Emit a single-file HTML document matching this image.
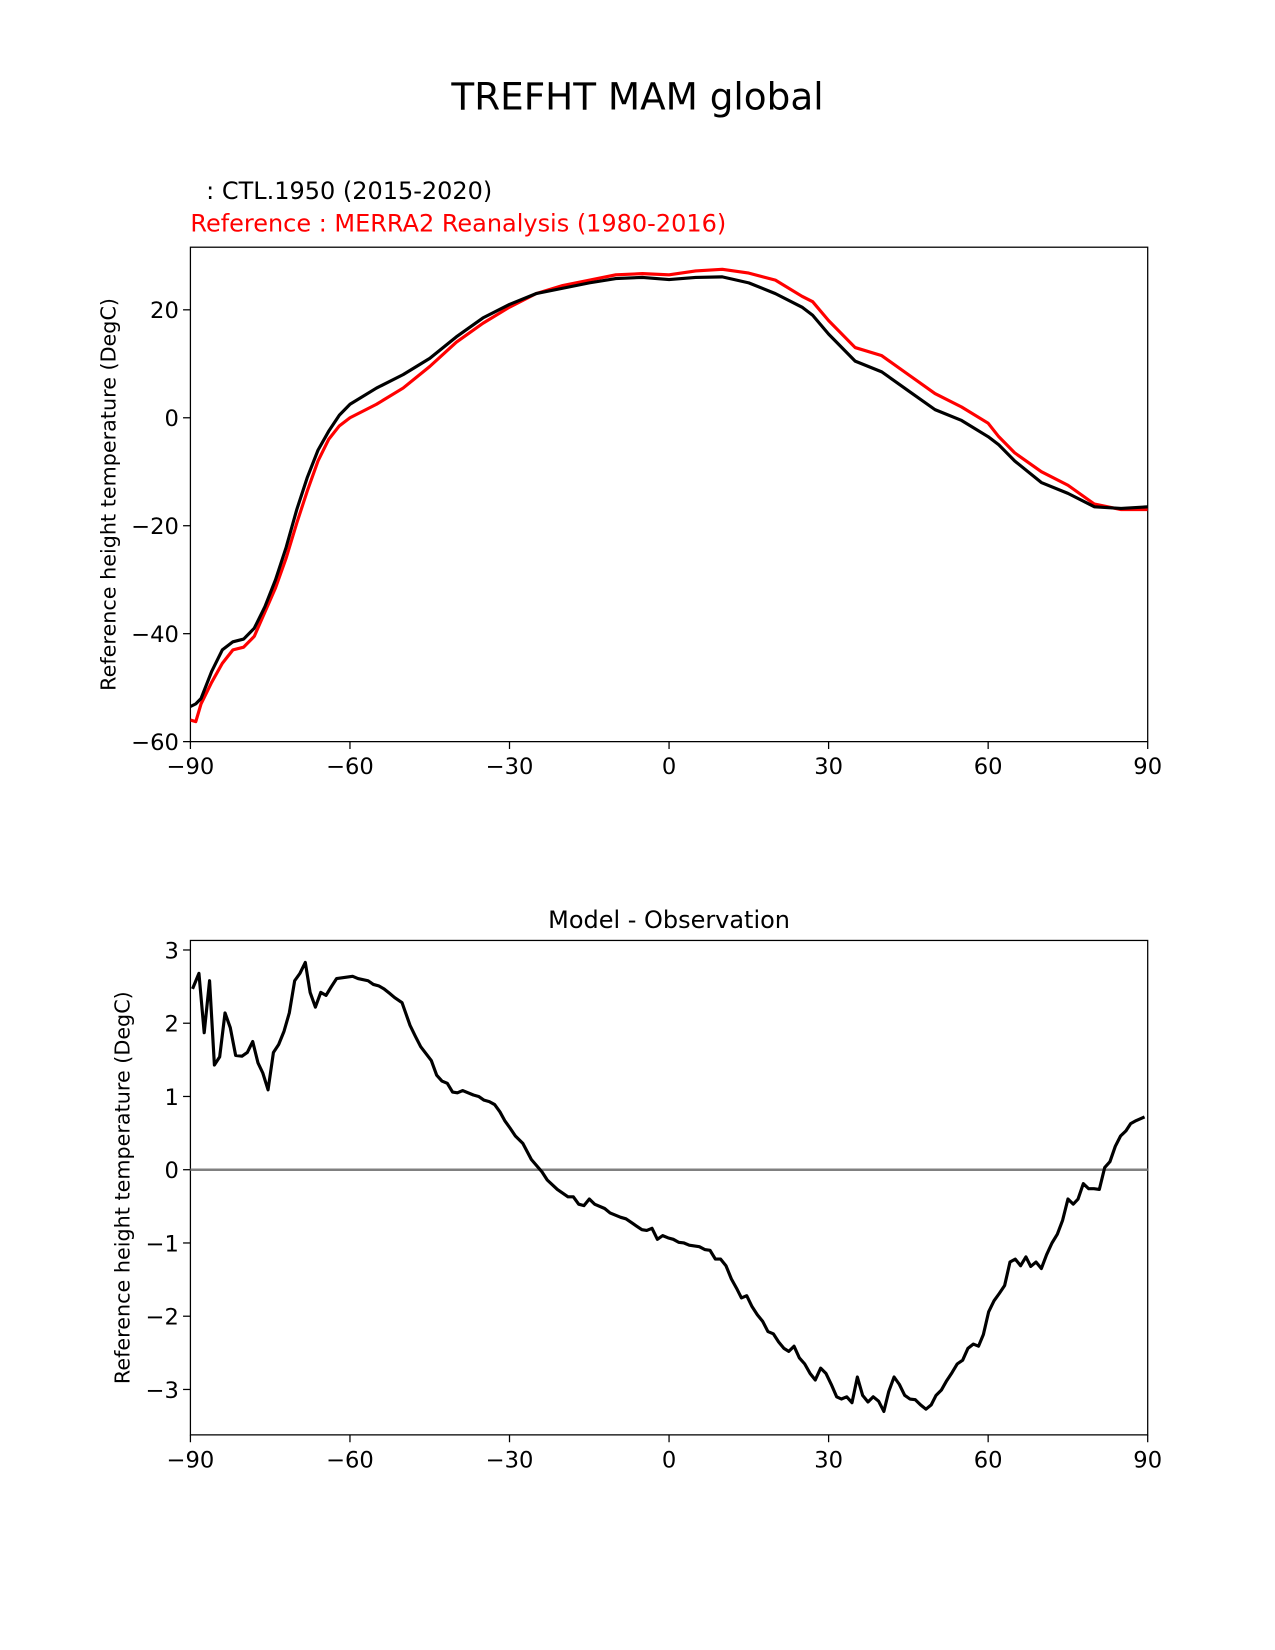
<!DOCTYPE html>
<html><head><meta charset="utf-8"><style>
html,body{margin:0;padding:0;background:#fff}
svg{display:block;font-family:"DejaVu Sans","Liberation Sans",sans-serif}
</style></head><body>
<svg id="fig" width="1275" height="1650" viewBox="0 0 1212 1568.5">
<text x="606" y="104" font-size="35.5" text-anchor="middle">TREFHT MAM global</text>
<text x="196" y="189" font-size="22.8">: CTL.1950 (2015-2020)</text>
<text x="181" y="220" font-size="22.8" fill="#ff0000">Reference : MERRA2 Reanalysis (1980-2016)</text>
<g id="topchart"></g>
<text x="636" y="882" font-size="22.8" text-anchor="middle">Model - Observation</text>
<g id="botchart"></g>
</svg>
<script>
const topLat=[-90,-89,-88,-86,-84,-82,-80,-78,-76,-74,-72,-70,-68,-66,-64,-62,-60,-55,-50,-45,-40,-35,-30,-25,-20,-15,-10,-5,0,5,10,15,20,25,27,30,35,40,45,50,55,60,62,65,70,75,80,85,90];
const modelVals=[-53.5,-53,-52,-47,-43,-41.5,-41,-39,-35,-30,-24,-17,-11,-6,-2.5,0.5,2.5,5.5,8,11,15,18.5,21,23,24,25,25.8,26,25.6,26,26.1,25,23,20.5,19,15.5,10.5,8.5,5,1.5,-0.5,-3.5,-5,-8,-12,-14,-16.5,-16.8,-16.5];
const refVals=[-56,-56.3,-53,-49,-45.5,-43,-42.5,-40.5,-36,-31.5,-26,-19.5,-13.5,-8,-4,-1.5,0,2.5,5.5,9.5,14,17.5,20.5,23,24.5,25.5,26.5,26.7,26.5,27.2,27.5,26.8,25.5,22.5,21.5,18,13,11.5,8,4.5,2,-1,-3.5,-6.5,-10,-12.5,-16,-17,-17];
const diffLat=[-89.6,-88.4,-87.4,-86.4,-85.5,-84.5,-83.5,-82.5,-81.5,-80.3,-79.3,-78.3,-77.3,-76.4,-75.4,-74.4,-73.4,-72.4,-71.4,-70.4,-69.4,-68.4,-67.5,-66.5,-65.5,-64.5,-63.5,-62.5,-60.5,-59.5,-58.5,-56.6,-55.6,-54.6,-53.6,-52.6,-51.6,-50.2,-48.7,-47.7,-46.7,-44.7,-43.7,-42.7,-41.7,-40.7,-39.8,-38.8,-36.8,-35.8,-34.8,-33.8,-32.8,-31.8,-30.9,-29.9,-28.9,-27.5,-25.9,-23.9,-22.9,-21.0,-19.0,-18.0,-17.0,-16.0,-15.0,-14.0,-12.1,-11.1,-9.1,-8.1,-7.1,-6.1,-5.1,-4.2,-3.2,-2.2,-1.2,-0.2,0.8,1.8,2.8,3.8,5.7,6.7,7.7,8.7,9.7,10.7,11.7,12.7,13.6,14.6,15.6,16.6,17.6,18.6,19.6,20.6,21.6,22.5,23.5,24.5,25.5,26.5,27.5,28.5,29.5,30.5,31.5,32.4,33.4,34.4,35.4,36.4,37.4,38.4,39.4,40.4,41.3,42.3,43.3,44.3,45.3,46.3,47.3,48.3,49.3,50.2,51.2,52.2,53.2,54.2,55.2,56.2,57.2,58.2,59.1,60.1,61.1,62.1,63.1,64.1,65.1,66.1,67.1,68.0,69.0,70.0,71.0,72.0,73.0,74.0,75.0,76.0,76.9,77.9,78.9,79.9,80.9,81.9,82.9,83.9,84.9,85.9,86.8,87.8,89.4];
const diffVals=[2.47,2.68,1.87,2.58,1.43,1.54,2.14,1.94,1.56,1.55,1.6,1.75,1.46,1.32,1.09,1.6,1.71,1.89,2.14,2.58,2.68,2.83,2.42,2.22,2.42,2.38,2.5,2.61,2.63,2.64,2.61,2.58,2.53,2.51,2.47,2.41,2.35,2.28,1.97,1.82,1.68,1.49,1.29,1.21,1.18,1.06,1.05,1.08,1.02,1.0,0.95,0.93,0.89,0.79,0.67,0.57,0.46,0.36,0.14,-0.03,-0.14,-0.27,-0.37,-0.37,-0.47,-0.49,-0.40,-0.47,-0.53,-0.59,-0.65,-0.67,-0.72,-0.77,-0.82,-0.83,-0.8,-0.95,-0.9,-0.93,-0.95,-0.99,-1.0,-1.03,-1.05,-1.09,-1.1,-1.22,-1.22,-1.31,-1.49,-1.62,-1.75,-1.72,-1.87,-1.98,-2.07,-2.21,-2.24,-2.35,-2.44,-2.48,-2.41,-2.57,-2.65,-2.78,-2.87,-2.71,-2.78,-2.93,-3.1,-3.13,-3.1,-3.18,-2.83,-3.08,-3.17,-3.1,-3.16,-3.3,-3.03,-2.83,-2.93,-3.08,-3.13,-3.14,-3.21,-3.27,-3.21,-3.08,-3.01,-2.88,-2.77,-2.65,-2.6,-2.44,-2.38,-2.41,-2.25,-1.94,-1.79,-1.69,-1.58,-1.26,-1.22,-1.31,-1.19,-1.32,-1.26,-1.35,-1.16,-1.0,-0.88,-0.69,-0.40,-0.47,-0.40,-0.19,-0.26,-0.26,-0.27,0.03,0.11,0.32,0.46,0.53,0.63,0.67,0.72];
const xTicks=[-90,-60,-30,0,30,60,90];
const topYTicks=[-60,-40,-20,0,20];
const botYTicks=[-3,-2,-1,0,1,2,3];
const NS='http://www.w3.org/2000/svg';
function mk(parent,tag,attrs,text){const e=document.createElementNS(NS,tag);for(const k in attrs)e.setAttribute(k,attrs[k]);if(text!==undefined)e.textContent=text;parent.appendChild(e);return e;}
function fmt(v){return v<0?'\u2212'+Math.abs(v):String(v);}
function axes(g,L,R,T,B,ymin,ymax,yTicks,ylabel,ylabX){
  const sx=v=>L+(v+90)/180*(R-L);
  const sy=v=>B-(v-ymin)/(ymax-ymin)*(B-T);
  const fr=mk(g,'rect',{x:L,y:T,width:R-L,height:B-T,fill:'none',stroke:'#000','stroke-width':1.2});
  
  
  xTicks.forEach(t=>{const x=sx(t);
    const l=mk(g,'line',{x1:x,x2:x,y1:B,y2:B+7,stroke:'#000','stroke-width':1.2});
    
    
    const tx=mk(g,'text',{x:x,y:B+31,'font-size':21.5,'text-anchor':'middle'},fmt(t));
    
    });
  yTicks.forEach(t=>{const y=sy(t);
    const l=mk(g,'line',{x1:L-7,x2:L,y1:y,y2:y,stroke:'#000','stroke-width':1.2});
    
    
    const tx=mk(g,'text',{x:L-11,y:y+8,'font-size':21.5,'text-anchor':'end'},fmt(t));
    
    });
  const yl=mk(g,'text',{x:ylabX,y:(T+B)/2,'font-size':19.7,'text-anchor':'middle',transform:`rotate(-90 ${ylabX} ${(T+B)/2})`},ylabel);
  
  
  return {sx,sy};
}
function line(g,sx,sy,xs,ys,color,name,w){
  const d=xs.map((x,i)=>(i?'L':'M')+sx(x).toFixed(1)+' '+sy(ys[i]).toFixed(1)).join(' ');
  const p=mk(g,'path',{d:d,fill:'none',stroke:color,'stroke-width':w||3,'stroke-linejoin':'round'});
  
  
}
const topG=document.getElementById('topchart');
const a1=axes(topG,181,1091,235,705,-60,31.6,topYTicks,'Reference height temperature (DegC)',110);
const cp=mk(topG,'clipPath',{id:'c1'});mk(cp,'rect',{x:181,y:235,width:910,height:470});
const tg=mk(topG,'g',{'clip-path':'url(#c1)'});
line(tg,a1.sx,a1.sy,topLat,refVals,'#ff0000','reference-line');
line(tg,a1.sx,a1.sy,topLat,modelVals,'#000000','model-line');
const botG=document.getElementById('botchart');
const a2=axes(botG,181,1091,894,1364,-3.62,3.13,botYTicks,'Reference height temperature (DegC)',123);
const z=mk(botG,'line',{x1:181,x2:1091,y1:a2.sy(0),y2:a2.sy(0),stroke:'#808080','stroke-width':2.4});


line(botG,a2.sx,a2.sy,diffLat,diffVals,'#000000','difference-line');
</script>
</body></html>
